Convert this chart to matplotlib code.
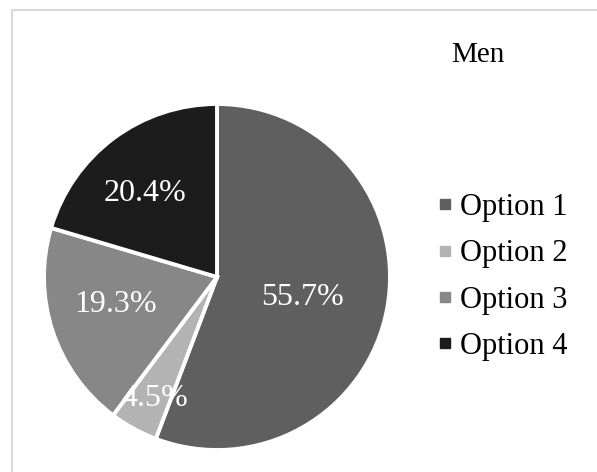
import matplotlib
matplotlib.use("Agg")
import matplotlib.pyplot as plt
from matplotlib.lines import Line2D
import numpy as np

labels = ["Option 1", "Option 2", "Option 3", "Option 4"]
shares = [55.7, 4.5, 19.3, 20.4]
colors = ["#5f5f5f", "#b3b3b3", "#878787", "#1c1c1c"]
# radial position and angular nudge (deg) of each percentage label
label_radius = [0.51, 0.79, 0.61, 0.64]
label_nudge = [-3, 1.5, -3, 4]

plt.rcParams["font.family"] = ["Liberation Serif", "DejaVu Serif"]

fig = plt.figure(figsize=(5.97, 4.72), dpi=100)
fig.patch.set_facecolor("white")

# chart-area frame (only top and left edges show)
fig.add_artist(Line2D([12 / 597, 12 / 597], [0, 1 - 10 / 472],
                      color="#d9d9d9", lw=1.5, transform=fig.transFigure))
fig.add_artist(Line2D([12 / 597, 1], [1 - 10 / 472, 1 - 10 / 472],
                      color="#d9d9d9", lw=1.5, transform=fig.transFigure))

ax = fig.add_axes([44 / 597, 22 / 472, 346 / 597, 346 / 472])
wedges, _ = ax.pie(shares, colors=colors, startangle=90, counterclock=False,
                   wedgeprops=dict(edgecolor="white", linewidth=2.8))
ax.set_xlim(-1, 1)
ax.set_ylim(-1, 1)
ax.set_aspect("equal")

for w, val, r, nudge in zip(wedges, shares, label_radius, label_nudge):
    ang = np.deg2rad((w.theta1 + w.theta2) / 2 + nudge)
    ax.text(r * np.cos(ang), r * np.sin(ang), f"{val:.1f}%",
            ha="center", va="center", color="white", fontsize=23)

fig.text(478 / 597, 1 - 55 / 472, "Men", ha="center", va="center", fontsize=21)

handles = [Line2D([], [], marker="s", linestyle="none", markersize=6.5,
                  markerfacecolor=c, markeredgecolor=c) for c in colors]
fig.legend(handles, labels, loc="center left", bbox_to_anchor=(439 / 597, 1 - 277 / 472),
           frameon=False, fontsize=22, handlelength=0.4, handletextpad=0.3,
           labelspacing=0.57, borderaxespad=0, borderpad=0)

fig.savefig("out.png", dpi=100)
